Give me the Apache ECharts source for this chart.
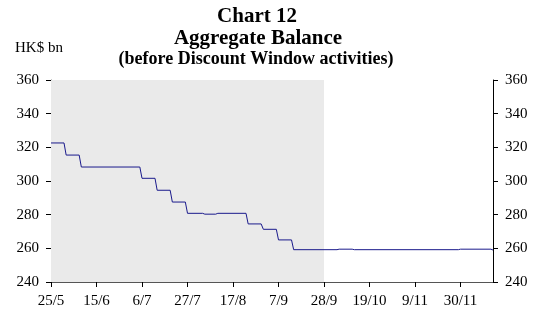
<!DOCTYPE html>
<html><head><meta charset="utf-8">
<script src="https://cdn.jsdelivr.net/npm/echarts@6/dist/echarts.min.js"></script>
<style>html,body{margin:0;padding:0;background:#fff}#c{width:537px;height:312px}</style>
</head><body><div id="c"></div>
<script>
const startDate = '2009-05-25';
const endDate = '2009-12-15';
const shadeEnd = '2009-09-28';
const tickLabels = ['25/5','15/6','6/7','27/7','17/8','7/9','28/9','19/10','9/11','30/11'];
const dates = ['2009-05-25','2009-05-31','2009-06-01','2009-06-07','2009-06-08','2009-07-05','2009-07-06',
  '2009-07-12','2009-07-13','2009-07-19','2009-07-20','2009-07-26','2009-07-27','2009-08-03','2009-08-04',
  '2009-08-09','2009-08-10','2009-08-23','2009-08-24','2009-08-30','2009-08-31','2009-09-06','2009-09-07',
  '2009-09-13','2009-09-14','2009-10-04','2009-10-05','2009-10-11','2009-10-12','2009-11-29','2009-11-30',
  '2009-12-14','2009-12-15'];
const balance = [322.6,322.6,315.4,315.4,308.3,308.3,301.6,
  301.6,294.5,294.5,287.5,287.5,280.8,280.8,280.3,
  280.3,280.8,280.8,274.5,274.5,271.3,271.3,265.0,
  265.0,259.2,259.2,259.5,259.5,259.2,259.2,259.5,
  259.5,259.0];
const yMin = 240, yMax = 360, yStep = 20, tickDays = 21;

const day = s => Math.round((Date.parse(s) - Date.parse(startDate)) / 86400000);
const seriesData = dates.map((d, i) => [day(d), balance[i]]);
const font = '"Liberation Serif","Times New Roman",serif';

const yAxisCommon = {
  type: 'value', min: yMin, max: yMax, interval: yStep,
  splitLine: { show: false },
  axisTick: { show: true, inside: false, length: 5, lineStyle: { color: '#000' } },
  axisLabel: { fontFamily: font, fontSize: 15, color: '#000', margin: 12 }
};

const chart = echarts.init(document.getElementById('c'), null, { renderer: 'canvas' });
chart.setOption({
  animation: false,
  backgroundColor: '#fff',
  grid: { left: 51, right: 44, top: 80, bottom: 30, containLabel: false },
  graphic: [
    { type: 'text', z: 10, style: { text: 'Chart 12', x: 257, y: 6, textAlign: 'center', font: 'bold 21px ' + font, fill: '#000' } },
    { type: 'text', z: 10, style: { text: 'Aggregate Balance', x: 258, y: 28, textAlign: 'center', font: 'bold 21px ' + font, fill: '#000' } },
    { type: 'text', z: 10, style: { text: '(before Discount Window activities)', x: 256, y: 50, textAlign: 'center', font: 'bold 18px ' + font, fill: '#000' } },
    { type: 'text', z: 10, style: { text: 'HK$ bn', x: 15, y: 41, font: '15px ' + font, fill: '#000' } }
  ],
  xAxis: {
    type: 'value', min: 0, max: day(endDate), interval: tickDays,
    splitLine: { show: false },
    axisLine: { lineStyle: { color: '#555' } },
    axisTick: { show: true, length: 5, lineStyle: { color: '#000' } },
    axisLabel: {
      fontFamily: font, fontSize: 15, color: '#000', margin: 12, showMaxLabel: false,
      formatter: v => { const i = v / tickDays; return Number.isInteger(i) && i < tickLabels.length ? tickLabels[i] : ''; }
    }
  },
  yAxis: [
    Object.assign({}, yAxisCommon, { position: 'left', axisLine: { show: true, lineStyle: { color: '#777' } } }),
    Object.assign({}, yAxisCommon, { position: 'right', axisLine: { show: true, lineStyle: { color: '#000' } } })
  ],
  series: [{
    type: 'line', data: seriesData, symbol: 'none', yAxisIndex: 0,
    lineStyle: { color: '#1a1a8c', width: 1 },
    markArea: { silent: true, itemStyle: { color: '#eaeaea' }, data: [[{ xAxis: 0 }, { xAxis: day(shadeEnd) }]] },
    z: 3
  }]
});
</script></body></html>
